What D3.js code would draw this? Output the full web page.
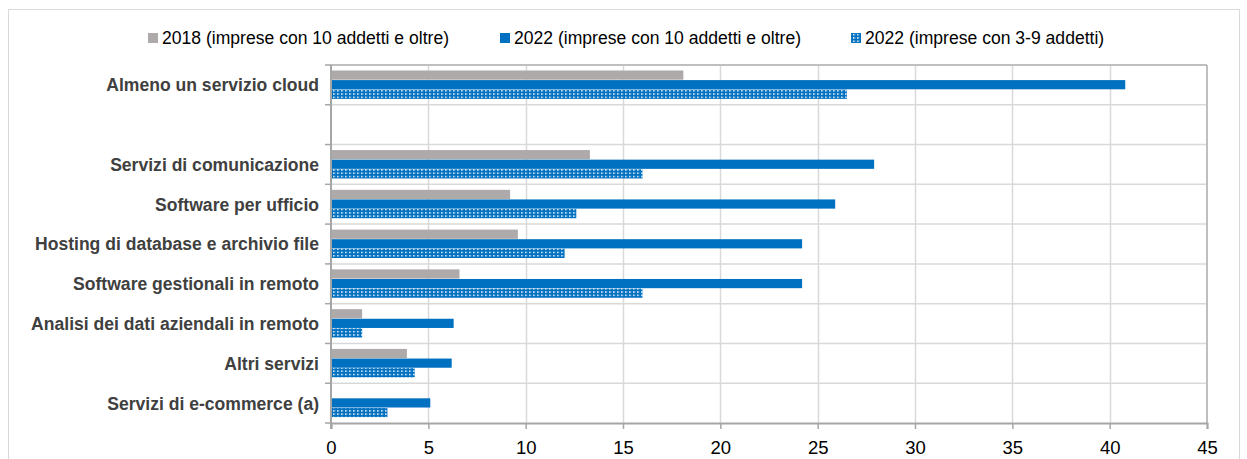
<!DOCTYPE html>
<html>
<head>
<meta charset="utf-8">
<script src="https://cdn.jsdelivr.net/npm/d3@7"></script>
<style>
  body { margin: 0; background: #fff; }
  svg { display: block; font-family: "Liberation Sans", Arial, sans-serif; }
</style>
</head>
<body>
<svg id="chart" width="1247" height="459"></svg>
<script>
// Categories (an empty slot separates the total from the detail rows)
const categories = [
  "Almeno un servizio cloud",
  "",
  "Servizi di comunicazione",
  "Software per ufficio ",
  "Hosting di database e archivio file",
  "Software gestionali in remoto",
  "Analisi dei dati aziendali in remoto",
  "Altri servizi",
  "Servizi di e-commerce (a)"
];
const series2018 = [18.1, null, 13.3, 9.2, 9.6, 6.6, 1.6, 3.9, null];
const series2022big = [40.8, null, 27.9, 25.9, 24.2, 24.2, 6.3, 6.2, 5.1];
const series2022small = [26.5, null, 16.0, 12.6, 12.0, 16.0, 1.6, 4.3, 2.9];
const seriesNames = [
  "2018 (imprese con 10 addetti e oltre)",
  "2022 (imprese con 10 addetti e oltre)",
  "2022 (imprese con 3-9 addetti)"
];
const xTicks = [0, 5, 10, 15, 20, 25, 30, 35, 40, 45];

const svg = d3.select("#chart");
const margin = { left: 331, right: 40, top: 65, bottom: 36 };
const W = 1247, H = 459;
const x0 = margin.left, x1 = W - margin.right, y0 = margin.top, y1 = H - margin.bottom;

// Pattern for the 3-9 addetti series: blue with a grid of white dots
const defs = svg.append("defs");
const pat = defs.append("pattern").attr("id", "dots")
  .attr("patternUnits", "userSpaceOnUse").attr("width", 4).attr("height", 3.3);
pat.append("rect").attr("width", 4).attr("height", 3.3).attr("fill", "#0070C0");
pat.append("rect").attr("x", 1).attr("y", 1).attr("width", 1.6).attr("height", 1.3).attr("fill", "#ffffff");
pat.append("rect").attr("x", 3).attr("y", 1.3).attr("width", 0.6).attr("height", 0.6).attr("fill", "#9cc5e6");

const colors = ["#AEAAAA", "#0070C0", "url(#dots)"];

// Outer frame
svg.append("rect").attr("x", 8.5).attr("y", 9.5).attr("width", 1231).attr("height", 470)
  .attr("fill", "none").attr("stroke", "#d9d9d9");

const x = d3.scaleLinear().domain([0, 45]).range([x0, x1]);
const y = d3.scaleBand().domain(d3.range(categories.length)).range([y0, y1]);

// Vertical gridlines
svg.append("g").selectAll("line").data(xTicks.slice(1, -1)).join("line")
  .attr("x1", d => Math.round(x(d)) + 0.5).attr("x2", d => Math.round(x(d)) + 0.5)
  .attr("y1", y0).attr("y2", y1)
  .attr("stroke", "#d9d9d9").attr("stroke-width", 1.5);
// Horizontal gridlines at band edges
svg.append("g").selectAll("line").data(d3.range(1, categories.length)).join("line")
  .attr("x1", x0).attr("x2", x1)
  .attr("y1", d => y(d)).attr("y2", d => y(d))
  .attr("stroke", "#d9d9d9").attr("stroke-width", 1.5);

// Bars: three stacked-in-band bars per category
const barH = 9.6;
const allSeries = [series2018, series2022big, series2022small];
const groupH = barH * 3;
allSeries.forEach((vals, si) => {
  svg.append("g").selectAll("rect")
    .data(vals.map((v, i) => ({ v, i })).filter(d => d.v != null))
    .join("rect")
    .attr("x", x(0))
    .attr("y", d => y(d.i) + (y.bandwidth() - groupH) / 2 + si * barH)
    .attr("width", d => x(d.v) - x(0))
    .attr("height", barH - 0.4)
    .attr("fill", colors[si]);
});

// Plot frame (top and right)
svg.append("line").attr("x1", x0).attr("x2", x1).attr("y1", y0).attr("y2", y0)
  .attr("stroke", "#bfbfbf").attr("stroke-width", 2);
svg.append("line").attr("x1", x1).attr("x2", x1).attr("y1", y0).attr("y2", y1)
  .attr("stroke", "#bfbfbf").attr("stroke-width", 2);

// X axis
const xAxis = svg.append("g").attr("transform", `translate(0,${y1})`)
  .call(d3.axisBottom(x).tickValues(xTicks).tickSize(6).tickPadding(12).tickFormat(d3.format("d")));
xAxis.select(".domain").attr("stroke", "#a6a6a6").attr("stroke-width", 2);
xAxis.selectAll(".tick line").attr("stroke", "#a6a6a6").attr("stroke-width", 1.5);
xAxis.selectAll(".tick text").attr("font-size", 18.5).attr("fill", "#000")
  .attr("font-family", "Liberation Sans, Arial, sans-serif");

// Y axis: ticks at band edges, labels centered in bands
const yAxisG = svg.append("g");
yAxisG.append("line").attr("x1", x0).attr("x2", x0).attr("y1", y0).attr("y2", y1 + 6)
  .attr("stroke", "#a6a6a6").attr("stroke-width", 2);
yAxisG.selectAll("line.tk").data(d3.range(0, categories.length + 1)).join("line")
  .attr("class", "tk")
  .attr("x1", x0 - 6).attr("x2", x0)
  .attr("y1", d => d < categories.length ? y(d) : y1)
  .attr("y2", d => d < categories.length ? y(d) : y1)
  .attr("stroke", "#a6a6a6").attr("stroke-width", 1.5);
// Labels drawn slightly narrowed, like a condensed bold face
yAxisG.selectAll("text").data(categories).join("text")
  .attr("transform", (d, i) => `translate(${x0 - 12},${y(i) + y.bandwidth() / 2}) scale(0.95,1)`)
  .attr("dy", "0.35em")
  .attr("text-anchor", "end")
  .attr("font-size", 18.5).attr("font-weight", "bold").attr("fill", "#404040")
  .text(d => d);

// Legend
const legendX = [148, 500, 851];
const legend = svg.append("g");
seriesNames.forEach((name, i) => {
  legend.append("rect").attr("x", legendX[i]).attr("y", 33).attr("width", 10).attr("height", 10)
    .attr("fill", colors[i]);
  legend.append("text")
    .attr("transform", `translate(${legendX[i] + 14},38) scale(0.95,1)`)
    .attr("dy", "0.35em")
    .attr("font-size", 18.5).attr("fill", "#000").text(name);
});
</script>
</body>
</html>
